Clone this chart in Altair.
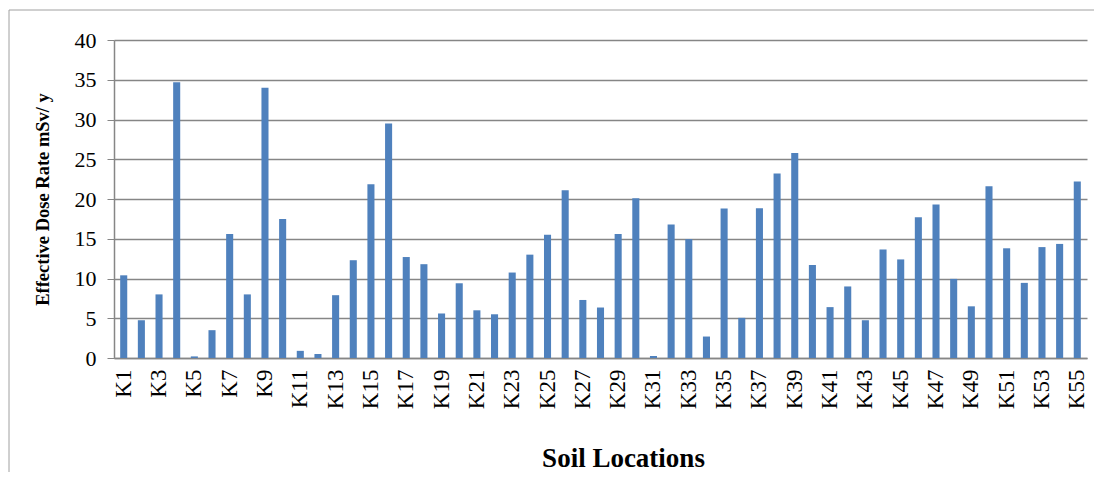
import altair as alt
import pandas as pd

locations = [f"K{i}" for i in range(1, 56)]
dose_rate = [
    10.4, 4.75, 8.0, 34.7, 0.2, 3.5, 15.6, 8.0, 34.0, 17.5,
    0.9, 0.5, 7.9, 12.3, 21.85, 29.5, 12.7, 11.8, 5.6, 9.4,
    6.0, 5.5, 10.75, 13.0, 15.5, 21.1, 7.3, 6.35, 15.6, 20.1,
    0.25, 16.8, 14.95, 2.7, 18.8, 5.05, 18.85, 23.2, 25.8, 11.7,
    6.4, 9.0, 4.75, 13.65, 12.4, 17.7, 19.3, 9.95, 6.5, 21.6,
    13.8, 9.45, 13.95, 14.35, 22.2,
]
shown_labels = locations[::2]

df = pd.DataFrame({"loc": locations, "val": dose_rate})

FONT = "Liberation Serif"

bars = alt.Chart(df).mark_bar(color="#4F81BD").encode(
    x=alt.X(
        "loc:N",
        sort=locations,
        scale=alt.Scale(paddingInner=0.6, paddingOuter=0.35),
        axis=alt.Axis(
            values=shown_labels,
            labelAngle=270,
            labelFont=FONT,
            labelFontSize=23,
            labelColor="black",
            labelPadding=11,
            ticks=False,
            domainColor="#868686",
            domainWidth=1.5,
            title="Soil Locations",
            titleFont=FONT,
            titleFontSize=27,
            titleFontWeight="bold",
            titleColor="black",
            titleBaseline="alphabetic",
            titleX=509,
            titleY=108,
        ),
    ),
    y=alt.Y(
        "val:Q",
        scale=alt.Scale(domain=[0, 40]),
        axis=alt.Axis(
            values=[0, 5, 10, 15, 20, 25, 30, 35, 40],
            labelFont=FONT,
            labelFontSize=22,
            labelColor="black",
            labelPadding=11,
            tickSize=7,
            tickColor="#868686",
            domainColor="#868686",
            domainWidth=1.5,
            gridColor="#868686",
            gridWidth=1.5,
            title="Effective Dose Rate mSv/ y",
            titleFont=FONT,
            titleFontSize=18.5,
            titleFontWeight="bold",
            titleColor="black",
            titleX=-62,
            titleY=159,
        ),
    ),
)

border = alt.Chart(df.head(1)).mark_rect(
    fill=None, stroke="#A0A0A0", strokeWidth=1
).encode(
    x=alt.value(-105), x2=alt.value(1100), y=alt.value(-30), y2=alt.value(500)
)

chart = alt.layer(border, bars).properties(
    width=973,
    height=318,
    padding={"left": 106, "top": 32, "right": 7, "bottom": 114},
    autosize=alt.AutoSizeParams(type="none"),
).configure_view(stroke=None).configure_axis(grid=True).configure_axisX(grid=False)

chart.save("out.html", embed_options={"renderer": "svg", "actions": False})
